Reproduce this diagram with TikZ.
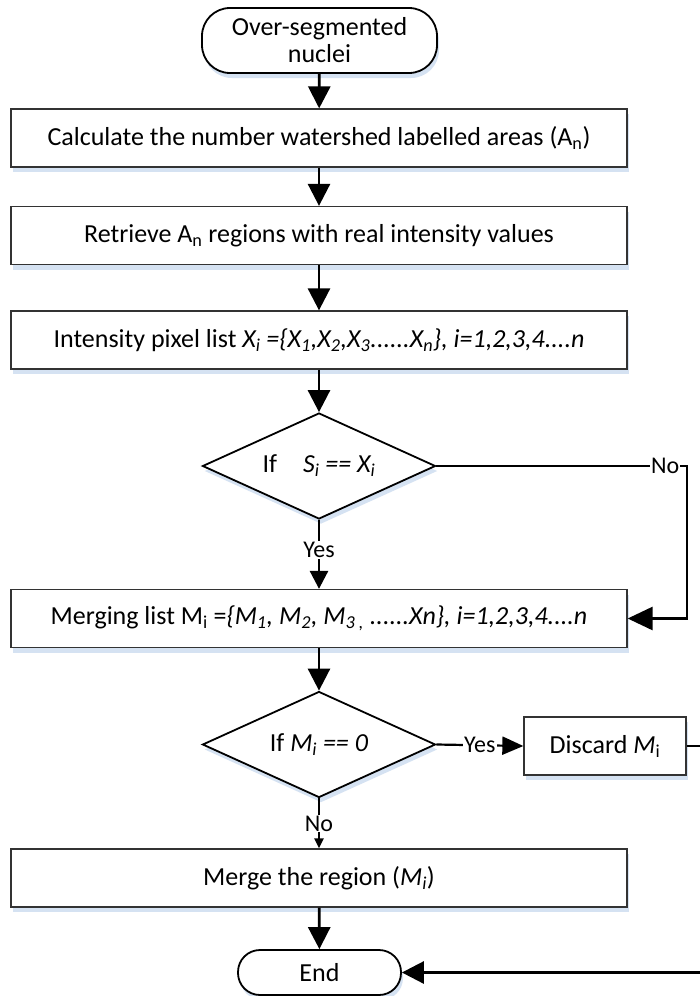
\documentclass[tikz,border=0pt]{standalone}
\usepackage{fontspec}
\setmainfont{Carlito}
\usetikzlibrary{shapes.geometric,arrows.meta,shadows}
\definecolor{shadowblue}{RGB}{213,226,242}
\tikzset{
  shad/.style={drop shadow={shadow xshift=2pt,shadow yshift=-5pt,fill=shadowblue,opacity=1}},
  box/.style={draw=black!80,line width=1.3pt,fill=white,minimum width=616pt,minimum height=58pt,inner sep=0pt,align=center,shad},
  term/.style={draw=black,line width=1.8pt,fill=white,rounded corners=28pt,inner sep=0pt,align=center,shad},
  dec/.style={draw=black,line width=1.8pt,fill=white,diamond,aspect=2.2,minimum width=233pt,minimum height=106pt,inner sep=0pt,shad},
  conn/.style={line width=2.8pt,draw=black},
  big/.style={-{Triangle[width=22pt,length=22pt]}},
  lab/.style={fill=white,inner sep=1pt,font=\fontsize{24}{28}\selectfont},
}
\begin{document}
\begin{tikzpicture}[x=1pt,y=-1pt,font=\fontsize{26}{30}\selectfont]
\clip (0,0) rectangle (700,996);
\fill[white] (0,0) rectangle (700,996);
\node[term,minimum width=235pt,minimum height=65pt] (start) at (319.5,40.5) {Over-segmented\\[-3pt]nuclei};
\node[box] (b1) at (319,138) {Calculate the number watershed labelled areas (A\textsubscript{n})};
\node[box] (b2) at (319,235.5) {Retrieve A\textsubscript{n} regions with real intensity values};
\node[box] (b3) at (319,340) {Intensity pixel list \textit{X\textsubscript{i} =\{X\textsubscript{1},X\textsubscript{2},X\textsubscript{3}......X\textsubscript{n}\}, i=1,2,3,4....n}};
\node[dec] (d1) at (319,466) {If\quad\textit{S\textsubscript{i} == X\textsubscript{i}}};
\node[box] (b4) at (319,618.5) {Merging list M\textsubscript{i} =\textit{\{M\textsubscript{1}, M\textsubscript{2}, M\textsubscript{3 ,} ......Xn\}, i=1,2,3,4....n}};
\node[dec] (d2) at (319,744.5) {If \textit{M\textsubscript{i} == 0}};
\node[box,minimum width=162pt] (dis) at (605,746) {Discard \textit{M}\textsubscript{i}};
\node[box] (b5) at (319,878) {Merge the region (\textit{M\textsubscript{i}})};
\node[term,minimum width=163pt,minimum height=45pt,rounded corners=22pt] (end) at (319.5,972.5) {End};
\coordinate (c1) at (687,466);
\coordinate (c2) at (710,746);
\draw[conn,big] (start) -- (b1);
\draw[conn,big] (b1) -- (b2);
\draw[conn,big] (b2) -- (b3);
\draw[conn,big] (b3) -- (d1);
\draw[conn,-{Triangle[width=18pt,length=18pt]}] (d1.south) -- node[lab,pos=0.44]{Yes} (b4.north);
\draw[conn,-{Triangle[width=23pt,length=25pt]}] (d1.east) -- node[lab,pos=0.913]{No} (c1) |- (b4.east);
\draw[conn,big] (b4) -- (d2);
\draw[conn,line width=2.2pt,-{Triangle[width=18pt,length=21pt]}] (d2.east) -- node[lab,pos=0.5]{Yes} (dis.west);
\draw[conn,-{Triangle[width=9pt,length=10pt]}] (d2.south) -- node[lab,pos=0.5]{No} (b5.north);
\draw[conn,big] (dis.east) -- (c2) |- (end.east);
\draw[conn,big] (b5) -- (end);
\end{tikzpicture}
\end{document}
